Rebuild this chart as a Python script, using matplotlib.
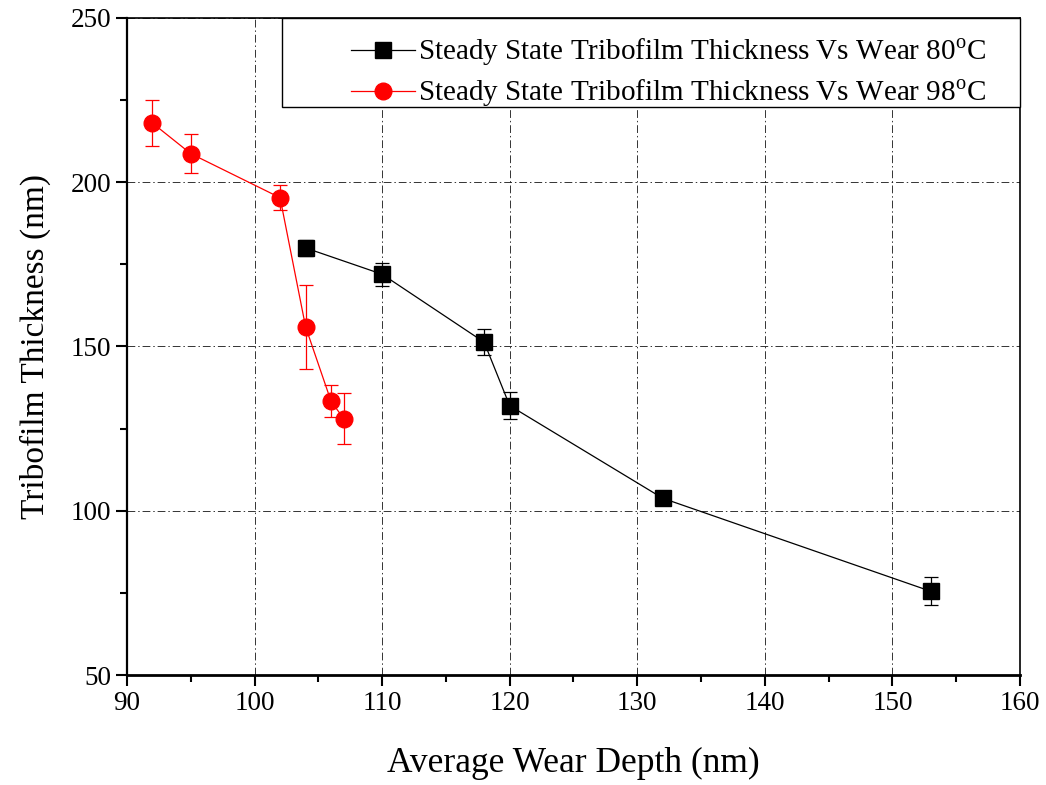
import matplotlib
matplotlib.use("Agg")
import matplotlib.pyplot as plt
from matplotlib.patches import Rectangle
from matplotlib.ticker import MultipleLocator

plt.rcParams['font.family'] = ['Liberation Serif', 'DejaVu Serif']
plt.rcParams['mathtext.fontset'] = 'custom'
plt.rcParams['mathtext.rm'] = 'Liberation Serif'

# 80 C series
depth_80 = [104, 110, 118, 120, 132, 153]
thick_80 = [180, 172, 151.3, 132, 103.8, 75.5]
err_80 = [2.5, 3.5, 4.0, 4.0, 1.0, 4.2]

# 98 C series
depth_98 = [92, 95, 102, 104, 106, 107]
thick_98 = [218, 208.7, 195.3, 156, 133.3, 128]
err_98 = [7.0, 6.0, 3.8, 12.8, 4.9, 7.7]

label_80 = 'Steady State Tribofilm Thickness Vs Wear 80$^{\\mathrm{o}}$C'
label_98 = 'Steady State Tribofilm Thickness Vs Wear 98$^{\\mathrm{o}}$C'

fig = plt.figure(figsize=(10.46, 7.85), dpi=100)
ax = fig.add_axes([0.1214, 0.1401, 0.8537, 0.8370])

eb80 = ax.errorbar(depth_80, thick_80, yerr=err_80, color='black', marker='s',
                   markersize=11, linewidth=0.9, elinewidth=0.9, capsize=5,
                   capthick=0.9, label=label_80, zorder=3)
eb98 = ax.errorbar(depth_98, thick_98, yerr=err_98, color='red', marker='o',
                   markersize=12, linewidth=0.9, elinewidth=0.9, capsize=5,
                   capthick=0.9, label=label_98, zorder=3)

ax.set_xlim(90, 160)
ax.set_ylim(50, 250)
ax.xaxis.set_major_locator(MultipleLocator(10))
ax.xaxis.set_minor_locator(MultipleLocator(5))
ax.yaxis.set_major_locator(MultipleLocator(50))
ax.yaxis.set_minor_locator(MultipleLocator(25))

ax.grid(True, which='major', color='black', linewidth=0.7,
        linestyle=(0, (8, 3, 1.5, 3)), alpha=0.8)
ax.set_axisbelow(True)

for side in ['left', 'bottom', 'right', 'top']:
    ax.spines[side].set_linewidth(1.2)
ax.spines['bottom'].set_linewidth(2.0)
ax.spines['left'].set_linewidth(1.6)

ax.tick_params(which='major', direction='out', length=8, width=1.5,
               labelsize=19.5, top=False, right=False)
ax.tick_params(which='minor', direction='out', length=5, width=1.5,
               top=False, right=False)

ax.set_xlabel('Average Wear Depth (nm)', fontsize=25.5, labelpad=22)
ax.set_ylabel('Tribofilm Thickness (nm)', fontsize=24, labelpad=14)

# legend box drawn separately so the entries sit with a wide left margin
frame = Rectangle((0.1736, 0.8645), 1 - 0.1736, 1 - 0.8645,
                  transform=ax.transAxes, facecolor='white',
                  edgecolor='black', linewidth=1.0, zorder=4, clip_on=False)
ax.add_patch(frame)
leg = ax.legend(handles=[eb80.lines[0], eb98.lines[0]],
                labels=[label_80, label_98],
                loc='upper left', bbox_to_anchor=(0.2508, 0.971),
                borderaxespad=0, borderpad=0, fontsize=21,
                handlelength=2.2, handletextpad=0.1, labelspacing=0.32,
                frameon=False)
leg.set_zorder(5)

fig.savefig('out.png', dpi=100)
